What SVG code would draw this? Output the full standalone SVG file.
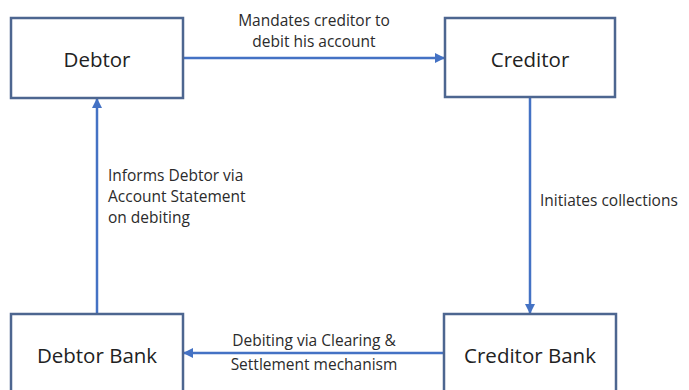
<svg xmlns="http://www.w3.org/2000/svg" width="689" height="390" viewBox="0 0 689 390">
<style>
.box{fill:#ffffff;stroke:#4d6690;stroke-width:2.5}
.nt{font-family:"Open Sans","Liberation Sans",sans-serif;font-size:20.5px;fill:#222222;text-anchor:middle}
.lb{font-family:"Open Sans","Liberation Sans",sans-serif;font-size:15.5px;fill:#2b2b2b}
.c{stroke:#4472c4;stroke-width:2.5;fill:none;marker-end:url(#ah)}
</style>
<defs>
<marker id="ah" viewBox="0 0 10 10" refX="9" refY="5" markerWidth="4" markerHeight="4" orient="auto" markerUnits="strokeWidth">
<path d="M0,0 L10,5 L0,10 z" fill="#4472c4"/>
</marker>
</defs>
<rect width="689" height="390" fill="#ffffff"/>
<g id="connectors">
<line class="c" x1="184" y1="58" x2="444" y2="58"/>
<line class="c" x1="530" y1="98" x2="530" y2="313"/>
<line class="c" x1="443" y1="353" x2="184" y2="353"/>
<line class="c" x1="97" y1="313" x2="97" y2="99"/>
<text class="lb" x="314" y="26" text-anchor="middle">Mandates creditor to</text>
<text class="lb" x="314" y="47" text-anchor="middle">debit his account</text>
<text class="lb" x="540" y="206">Initiates collections</text>
<text class="lb" x="108" y="181">Informs Debtor via</text>
<text class="lb" x="108" y="202">Account Statement</text>
<text class="lb" x="108" y="223">on debiting</text>
<text class="lb" x="314" y="346" text-anchor="middle">Debiting via Clearing &amp;</text>
<text class="lb" x="314" y="370" text-anchor="middle">Settlement mechanism</text>
</g>
<g id="debtor">
<rect class="box" x="11" y="18" width="172" height="80"/>
<text class="nt" x="97" y="67">Debtor</text>
</g>
<g id="creditor">
<rect class="box" x="445" y="18" width="170" height="79"/>
<text class="nt" x="530" y="67">Creditor</text>
</g>
<g id="debtor-bank">
<rect class="box" x="11" y="314" width="172" height="90"/>
<text class="nt" x="97" y="363">Debtor Bank</text>
</g>
<g id="creditor-bank">
<rect class="box" x="444" y="314" width="172" height="90"/>
<text class="nt" x="530" y="363">Creditor Bank</text>
</g>
</svg>
